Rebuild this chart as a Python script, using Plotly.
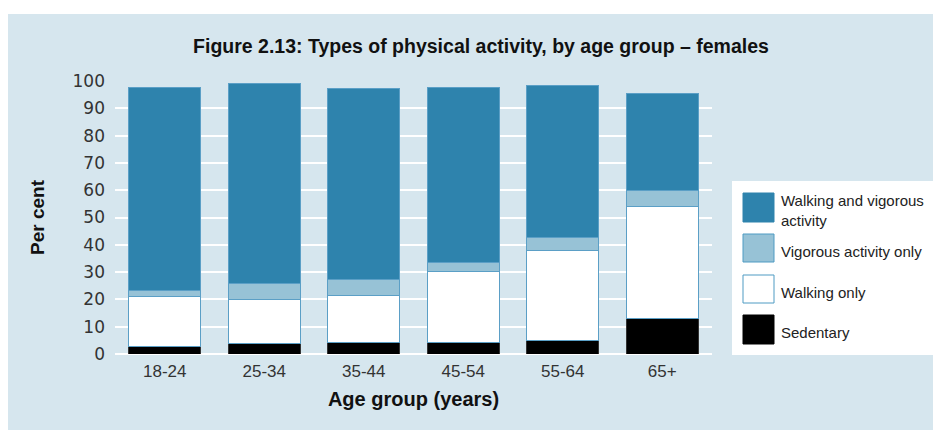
import plotly.graph_objects as go

categories = ["18-24", "25-34", "35-44", "45-54", "55-64", "65+"]
sedentary = [2.8, 4.0, 4.1, 4.1, 5.1, 13.1]
walking_only = [18.1, 16.0, 17.5, 26.3, 32.9, 41.1]
vigorous_only = [2.5, 5.9, 5.7, 3.1, 4.5, 5.6]
walking_and_vigorous = [74.3, 73.1, 69.9, 64.3, 55.7, 35.7]
y_ticks = [0, 10, 20, 30, 40, 50, 60, 70, 80, 90, 100]

BG = "#d6e6ee"
DARK = "#2e83ad"
LIGHT = "#97c2d6"
EDGE = "#5b9fc6"
FONT = "Liberation Sans"

# page has an 8px body margin; figure fills the rest of the 941x430 window
OFF = 8
W, H = 941 - OFF, 430 - OFF
L, R, T, B = 115 - OFF, 941 - 712, 81 - OFF, 430 - 354
PW, PH = W - L - R, H - T - B


def px(x):
    return (x - OFF - L) / PW


def py(y):
    return (H - B - (y - OFF)) / PH


fig = go.Figure()
series = [
    ("Sedentary", sedentary, "#000000", "#333333"),
    ("Walking only", walking_only, "#ffffff", EDGE),
    ("Vigorous activity only", vigorous_only, LIGHT, EDGE),
    ("Walking and vigorous activity", walking_and_vigorous, DARK, EDGE),
]
for name, vals, col, edge in series:
    fig.add_trace(go.Bar(
        x=categories, y=vals, name=name,
        marker=dict(color=col, line=dict(color=edge, width=1)),
        showlegend=False,
    ))

shapes = [
    # white strip at the top of the page
    dict(type="rect", xref="paper", yref="paper", x0=px(OFF), x1=px(941), y0=py(14), y1=py(OFF),
         fillcolor="white", line=dict(width=0), layer="above"),
    # legend box
    dict(type="rect", xref="paper", yref="paper", x0=px(732), x1=px(936), y0=py(355), y1=py(181),
         fillcolor="white", line=dict(width=0), layer="above"),
]
annotations = []
legend_items = [
    ("Walking and vigorous<br>activity", DARK, DARK, 193, 222),
    ("Vigorous activity only", LIGHT, "#4f9bc3", 234, 262),
    ("Walking only", "#ffffff", "#4f9bc3", 275, 303),
    ("Sedentary", "#000000", "#000000", 315, 344),
]
for text, fill, edge, y0, y1 in legend_items:
    shapes.append(dict(type="rect", xref="paper", yref="paper", x0=px(743), x1=px(774),
                       y0=py(y1), y1=py(y0), fillcolor=fill, line=dict(color=edge, width=1),
                       layer="above"))
    annotations.append(dict(xref="paper", yref="paper", x=px(779), y=py((y0 + y1) / 2 + 3),
                            text=text, showarrow=False, xanchor="left", yanchor="middle",
                            align="left", font=dict(family=FONT, size=15, color="#222222")))

fig.update_layout(
    width=W, height=H,
    margin=dict(l=L, r=R, t=T, b=B, pad=0),
    paper_bgcolor=BG, plot_bgcolor=BG,
    barmode="stack", bargap=0.275,
    title=dict(text="<b>Figure 2.13: Types of physical activity, by age group – females</b>",
               x=(481 - OFF) / W, xanchor="center", y=1 - (46 - OFF) / H, yanchor="middle",
               font=dict(family=FONT, size=19.5, color="#111111")),
    font=dict(family=FONT, color="#333333"),
    xaxis=dict(range=[-0.5, 5.5], showgrid=False, showline=False, ticks="",
               ticklabelstandoff=5,
               tickfont=dict(family=FONT, size=17, color="#333333"),
               title=dict(text="<b>Age group (years)</b>", font=dict(size=20, color="#111111"),
                          standoff=11)),
    yaxis=dict(range=[0, 100], tickvals=y_ticks, showgrid=True, gridcolor="white", gridwidth=2,
               zeroline=True, zerolinecolor="white", zerolinewidth=2, showline=False,
               ticks="", ticklabelstandoff=9,
               tickfont=dict(family="DejaVu Sans", size=17, color="#333333"),
               title=dict(text="<b>Per cent</b>", font=dict(size=19, color="#111111"),
                          standoff=22)),
    shapes=shapes, annotations=annotations,
)

fig.write_html("out.html")
